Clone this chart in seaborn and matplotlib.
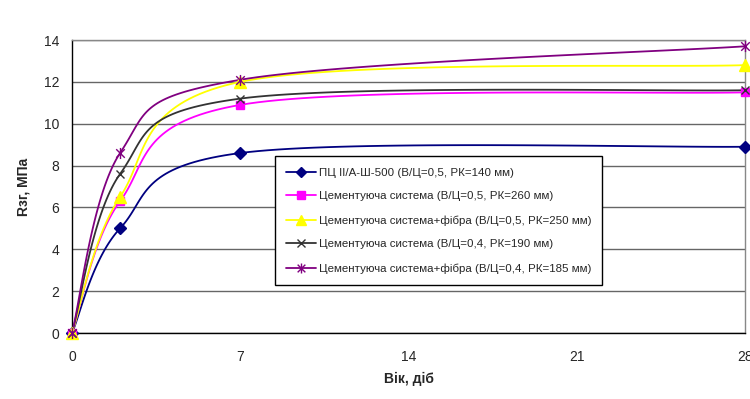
import matplotlib
matplotlib.use("Agg")
import matplotlib.pyplot as plt
import numpy as np
import pandas as pd
import seaborn as sns
from matplotlib.path import Path
from matplotlib.lines import Line2D

# data
days = [0, 2, 7, 28]
r_pc = [0, 5.0, 8.6, 8.9]
r_cs05 = [0, 6.3, 10.9, 11.5]
r_csf05 = [0, 6.5, 12.0, 12.8]
r_cs04 = [0, 7.6, 11.2, 11.6]
r_csf04 = [0, 8.6, 12.1, 13.7]

labels = [
    "ПЦ II/А-Ш-500 (В/Ц=0,5, РК=140 мм)",
    "Цементуюча система (В/Ц=0,5, РК=260 мм)",
    "Цементуюча система+фібра (В/Ц=0,5, РК=250 мм)",
    "Цементуюча система (В/Ц=0,4, РК=190 мм)",
    "Цементуюча система+фібра (В/Ц=0,4, РК=185 мм)",
]
series = [r_pc, r_cs05, r_csf05, r_cs04, r_csf04]
colors = ["#000080", "#FF00FF", "#FFFF00", "#333333", "#800080"]

# excel style star marker (x with vertical bar)
star = Path([(-1, -1), (1, 1), (-1, 1), (1, -1), (0, -1.3), (0, 1.3)],
            [Path.MOVETO, Path.LINETO, Path.MOVETO, Path.LINETO, Path.MOVETO, Path.LINETO])
markers = ["D", "s", "^", "x", star]
msizes = [6, 6, 8, 6, 8]


def excel_smooth(xs, ys, n=40):
    # bezier smoothing like excel "smoothed line"
    p = np.column_stack([xs, ys]).astype(float)
    out = [p[0]]
    for i in range(len(p) - 1):
        prev = p[i - 1] if i > 0 else p[i]
        nxt = p[i + 2] if i + 2 < len(p) else p[i + 1]
        c1 = p[i] + (p[i + 1] - prev) / 6
        c2 = p[i + 1] - (nxt - p[i]) / 6
        t = np.linspace(0, 1, n)[1:, None]
        seg = ((1 - t) ** 3 * p[i] + 3 * (1 - t) ** 2 * t * c1
               + 3 * (1 - t) * t ** 2 * c2 + t ** 3 * p[i + 1])
        out.extend(seg)
    out = np.array(out)
    return out[:, 0], out[:, 1]


sns.set_style("white")
plt.rcParams["font.family"] = ["Liberation Sans", "DejaVu Sans"]

fig = plt.figure(figsize=(7.5, 3.99), dpi=100)
ax = fig.add_axes([0.096, 0.1654, 0.8973, 0.7343])

for vals, c in zip(series, colors):
    sx, sy = excel_smooth(days, vals)
    df = pd.DataFrame({"x": sx, "y": sy})
    sns.lineplot(data=df, x="x", y="y", color=c, lw=1.3, sort=False,
                 estimator=None, ax=ax, clip_on=False, zorder=3)

for vals, c, m, ms in zip(series, colors, markers, msizes):
    ax.plot(days, vals, ls="none", marker=m, ms=ms, color=c, mec=c,
            mew=1.0, clip_on=False, zorder=4)

ax.set_xlim(0, 28)
ax.set_ylim(0, 14)
ax.set_xticks([0, 7, 14, 21, 28])
ax.set_yticks(range(0, 15, 2))
ax.yaxis.grid(True, color="#666666", lw=1)
ax.set_axisbelow(True)
for s in ["top", "right"]:
    ax.spines[s].set_color("#888888")
    ax.spines[s].set_linewidth(1)
for s in ["left", "bottom"]:
    ax.spines[s].set_color("black")
    ax.spines[s].set_linewidth(1)
ax.tick_params(axis="both", direction="out", length=4, width=1,
               color="black", labelsize=10, pad=6)
ax.tick_params(axis="x", pad=8)
ax.tick_params(axis="y", pad=5)
ax.set_xlabel("Вік, діб", fontsize=10, fontweight="bold", labelpad=6)
ax.set_ylabel("Rзг, МПа", fontsize=10, fontweight="bold", labelpad=10)

handles = [Line2D([], [], color=c, lw=1.3, marker=m, ms=ms * 0.9, mec=c)
           for c, m, ms in zip(colors, markers, msizes)]
leg = ax.legend(handles, labels, loc="upper left", bbox_to_anchor=(0.3016, 0.604),
                borderaxespad=0, fontsize=8.25, frameon=True, fancybox=False,
                edgecolor="black", framealpha=1, labelspacing=1.2,
                handlelength=2.6, handletextpad=0.2, borderpad=1.0)
leg.get_frame().set_linewidth(1)

fig.savefig("out.png", dpi=100)
